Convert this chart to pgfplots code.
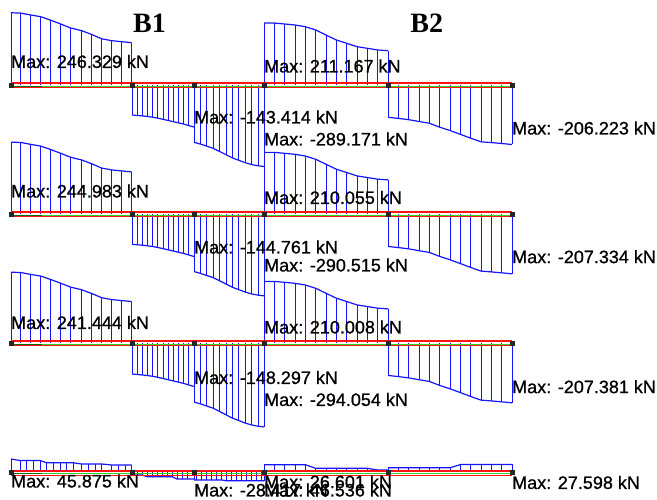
\documentclass[border=0pt]{standalone}
\usepackage{fontspec}
\setmainfont{Liberation Sans}
\newfontfamily\labfont{Liberation Sans}[FakeBold=0.9]
\newfontfamily\titlefont{Liberation Serif}
\usepackage{pgfplots}
\usepackage{pgfplotstable}
\pgfplotsset{compat=1.18}
\definecolor{dblue}{RGB}{20,20,255}
\definecolor{edgegray}{RGB}{70,70,70}
\definecolor{lgreen}{RGB}{40,215,40}
\definecolor{dgreen}{RGB}{0,110,0}
\definecolor{rred}{RGB}{255,20,20}
\pgfplotsset{
 rowaxis/.style={hide axis, scale only axis, width=657pt, height=499pt, xmin=0, xmax=657, clip=false, at={(0,0)}, anchor=south west},
 outl/.style={dblue, line width=1.2pt, mark=none},
 comb/.style={dblue, line width=0.8pt, ycomb, mark=none},
 edge/.style={edgegray, line width=1pt, ycomb, mark=none},
}
\newcommand\lab{\labfont\fontsize{18}{18}\selectfont}
% ---------------- Row 1 ----------------
\pgfplotstableread{
x V
11 246.3
20.7 245.2
30.7 238.7
40.7 232.9
50.7 221.0
60.7 208.0
70.7 194.4
81.7 185.2
91.7 172.2
101.7 157.5
111.7 151.1
121.7 147.7
131.7 144.2
}\RoneA
\pgfplotstableread{
x V
132 -102.3
137.2 -104.0
142.3 -105.4
147.5 -107.4
152.7 -109.8
157.8 -113.2
163 -117.0
168.2 -121.1
173.3 -125.1
178.5 -129.2
183.7 -133.3
188.8 -138.4
194 -143.4
}\RoneB
\pgfplotstableread{
x V
194 -195.4
200.4 -201.5
206.8 -208.7
213.2 -215.9
219.6 -226.8
226 -237.7
232.4 -248.6
238.8 -256.8
245.2 -265.0
251.6 -271.4
258 -275.5
264 -277.9
}\RoneC
\pgfplotstableread{
x V
264 211.2
274.3 211.2
284.7 208.0
295 204.6
305.3 198.8
315.7 187.6
326 170.5
336.3 153.5
346.7 142.2
357 130.6
367.3 125.1
377.7 119.4
388 117.0
}\RoneD
\pgfplotstableread{
x V
388 -110.1
398.3 -113.9
408.7 -118.3
419 -124.5
429.3 -130.3
439.7 -143.9
450 -155.2
460.3 -168.1
470.7 -181.4
481 -193.7
491.3 -196.4
501.7 -199.5
512 -202.9
}\RoneE
% ---------------- Row 2 ----------------
\pgfplotstableread{
x V
11 245.0
20.7 243.9
30.7 237.4
40.7 231.6
50.7 219.8
60.7 206.9
70.7 193.3
81.7 184.2
91.7 171.3
101.7 156.6
111.7 150.3
121.7 146.9
131.7 143.4
}\RtwoA
\pgfplotstableread{
x V
132 -103.3
137.2 -105.0
142.3 -106.4
147.5 -108.4
152.7 -110.8
157.8 -114.3
163 -118.1
168.2 -122.2
173.3 -126.3
178.5 -130.4
183.7 -134.6
188.8 -139.7
194 -144.8
}\RtwoB
\pgfplotstableread{
x V
194 -196.3
200.4 -202.4
206.8 -209.7
213.2 -216.9
219.6 -227.8
226 -238.8
232.4 -249.7
238.8 -258.0
245.2 -266.2
251.6 -272.6
258 -276.8
264 -279.2
}\RtwoC
\pgfplotstableread{
x V
264 210.1
274.3 210.1
284.7 206.9
295 203.5
305.3 197.7
315.7 186.6
326 169.6
336.3 152.7
346.7 141.4
357 129.9
367.3 124.4
377.7 118.8
388 116.4
}\RtwoD
\pgfplotstableread{
x V
388 -110.7
398.3 -114.5
408.7 -118.9
419 -125.2
429.3 -131.0
439.7 -144.7
450 -156.0
460.3 -169.0
470.7 -182.4
481 -194.7
491.3 -197.5
501.7 -200.6
512 -204.0
}\RtwoE
% ---------------- Row 3 ----------------
\pgfplotstableread{
x V
11 241.4
20.7 240.3
30.7 233.9
40.7 228.2
50.7 216.6
60.7 203.8
70.7 190.5
81.7 181.5
91.7 168.8
101.7 154.4
111.7 148.1
121.7 144.7
131.7 141.3
}\RthreeA
\pgfplotstableread{
x V
132 -105.8
137.2 -107.5
142.3 -109.0
147.5 -111.1
152.7 -113.5
157.8 -117.0
163 -121.0
168.2 -125.2
173.3 -129.4
178.5 -133.6
183.7 -137.8
188.8 -143.1
194 -148.3
}\RthreeB
\pgfplotstableread{
x V
194 -201.3
200.4 -207.5
206.8 -215.0
213.2 -222.4
219.6 -233.6
226 -244.8
232.4 -256.1
238.8 -264.5
245.2 -273.0
251.6 -279.5
258 -283.8
264 -286.2
}\RthreeC
\pgfplotstableread{
x V
264 210.0
274.3 210.0
284.7 206.9
295 203.5
305.3 197.7
315.7 186.6
326 169.6
336.3 152.7
346.7 141.4
357 129.9
367.3 124.4
377.7 118.7
388 116.4
}\RthreeD
\pgfplotstableread{
x V
388 -110.7
398.3 -114.5
408.7 -119.0
419 -125.2
429.3 -131.0
439.7 -144.7
450 -156.1
460.3 -169.0
470.7 -182.4
481 -194.8
491.3 -197.5
501.7 -200.6
512 -204.0
}\RthreeE
% ---------------- Row 4 ----------------
\pgfplotstableread{
x V
11 45.9
20 41.0
26.7 41.0
33.3 41.0
40 41.0
46.7 33.0
53.3 33.0
60 33.0
66.7 33.0
73.3 33.0
81.7 29.0
88.3 29.0
95 29.0
101.7 29.0
111.7 25.6
118.3 25.6
125 25.6
131.7 25.6
}\RfourA
\pgfplotstableread{
x V
132 -8.5
137 -8.5
142 -8.5
147 -14.3
152 -14.3
157 -14.3
162 -14.3
167 -14.3
172 -14.3
177 -22.2
182 -22.2
187 -22.2
194 -22.2
}\RfourB
\pgfplotstableread{
x V
194 -25.6
196.7 -25.6
201.7 -25.6
206.7 -25.6
211.7 -25.6
216.7 -25.6
221.7 -25.6
226.7 -28.4
231.7 -28.4
236.7 -28.4
241.7 -28.4
246.7 -28.4
251.7 -28.4
256.7 -28.4
261.7 -28.4
264 -28.4
}\RfourC
\pgfplotstableread{
x V
264 26.6
274.3 26.6
284.7 26.6
295 26.6
305.3 26.6
315.7 14.3
326 14.3
336.3 14.3
346.7 14.3
357 14.3
367.3 14.3
377.7 8.5
388 8.5
}\RfourD
\pgfplotstableread{
x V
388 16.0
398.3 16.0
408.7 16.0
419 16.0
429.3 16.0
439.7 16.0
450 16.0
460.3 27.0
470.7 27.0
481 27.0
491.3 27.0
501.7 27.0
512 27.6
}\RfourE
% one row of the diagram: 5 span tables
\newcommand\drawrow[5]{%
 \addplot[comb] table {#1};
 \addplot[comb] table {#2};
 \addplot[comb] table {#3};
 \addplot[comb] table {#4};
 \addplot[comb] table {#5};
 \addplot[outl] table {#1};
 \addplot[outl] table {#2};
 \addplot[outl] table {#3};
 \addplot[outl] table {#4};
 \addplot[outl] table {#5};
 \addplot[rred, line width=2.2pt] coordinates {(11,6.1) (512,6.1)};
 \addplot[rred, line width=1.2pt] coordinates {(11,-9.5) (512,-9.5)};
 \addplot[lgreen, line width=1.2pt] coordinates {(11,-4.1) (512,-4.1)};
 \addplot[dgreen, line width=1.3pt] coordinates {(11,-4.1) (42,-4.1)};
 \addplot[only marks, mark=square*, mark size=2.2pt, black!85] coordinates {(11,0) (132,0) (194,0) (264,0) (388,0) (512,0)};
}
\begin{document}
\begin{tikzpicture}
\useasboundingbox (0,0) rectangle (657pt,499pt);
% Row 1 (baseline at 85 px)
\begin{axis}[rowaxis, ymin=-1411.74, ymax=289.85]
 \addplot[edge] coordinates {(11,246.3) (194,-195.4) (264,-277.9) (264,211.2) (512,-202.9)};
 \drawrow{\RoneA}{\RoneB}{\RoneC}{\RoneD}{\RoneE}
\end{axis}
% Row 2 (baseline at 214 px)
\begin{axis}[rowaxis, ymin=-971.85, ymax=729.74]
 \addplot[edge] coordinates {(11,245.0) (194,-196.3) (264,-279.2) (264,210.1) (512,-204.0)};
 \drawrow{\RtwoA}{\RtwoB}{\RtwoC}{\RtwoD}{\RtwoE}
\end{axis}
% Row 3 (baseline at 343 px)
\begin{axis}[rowaxis, ymin=-531.96, ymax=1169.63]
 \addplot[edge] coordinates {(11,241.4) (194,-201.3) (264,-286.2) (264,210.0) (512,-204.0)};
 \drawrow{\RthreeA}{\RthreeB}{\RthreeC}{\RthreeD}{\RthreeE}
\end{axis}
% Row 4 (baseline at 472.5 px)
\begin{axis}[rowaxis, ymin=-90.37, ymax=1611.23]
 \addplot[edge] coordinates {(11,45.9) (264,-28.4) (264,26.6) (512,27.6)};
 \drawrow{\RfourA}{\RfourB}{\RfourC}{\RfourD}{\RfourE}
\end{axis}
% Text layer in picture coordinates
\begin{axis}[rowaxis, ymin=0, ymax=499, y dir=reverse]
 \node[font=\titlefont\fontsize{28}{28}\selectfont\bfseries] at (axis cs:149.5,23.5) {B1};
 \node[font=\titlefont\fontsize{28}{28}\selectfont\bfseries] at (axis cs:426.7,23.2) {B2};
 \begin{scope}[every node/.style={anchor=west, inner sep=0pt, font=\lab, text=black}]
 \node at (axis cs:11,61.5) {Max: 246.329 kN};
 \node at (axis cs:194,117) {Max: -143.414 kN};
 \node at (axis cs:264,139) {Max: -289.171 kN};
 \node at (axis cs:264,66) {Max: 211.167 kN};
 \node at (axis cs:512,128) {Max: -206.223 kN};
 \node at (axis cs:11,191) {Max: 244.983 kN};
 \node at (axis cs:194,247) {Max: -144.761 kN};
 \node at (axis cs:264,265) {Max: -290.515 kN};
 \node at (axis cs:264,197.5) {Max: 210.055 kN};
 \node at (axis cs:512,256.7) {Max: -207.334 kN};
 \node at (axis cs:11,322.5) {Max: 241.444 kN};
 \node at (axis cs:194,377.5) {Max: -148.297 kN};
 \node at (axis cs:264,399.5) {Max: -294.054 kN};
 \node at (axis cs:264,327) {Max: 210.008 kN};
 \node at (axis cs:512,386.7) {Max: -207.381 kN};
 \node at (axis cs:11,481) {Max: 45.875 kN};
 \node at (axis cs:194,490) {Max: -28.417 kN};
 \node at (axis cs:264,490) {Max: 46.536 kN};
 \node at (axis cs:264,481.7) {Max: 26.601 kN};
 \node at (axis cs:512,482.5) {Max: 27.598 kN};
 \end{scope}
\end{axis}
\end{tikzpicture}
\end{document}
